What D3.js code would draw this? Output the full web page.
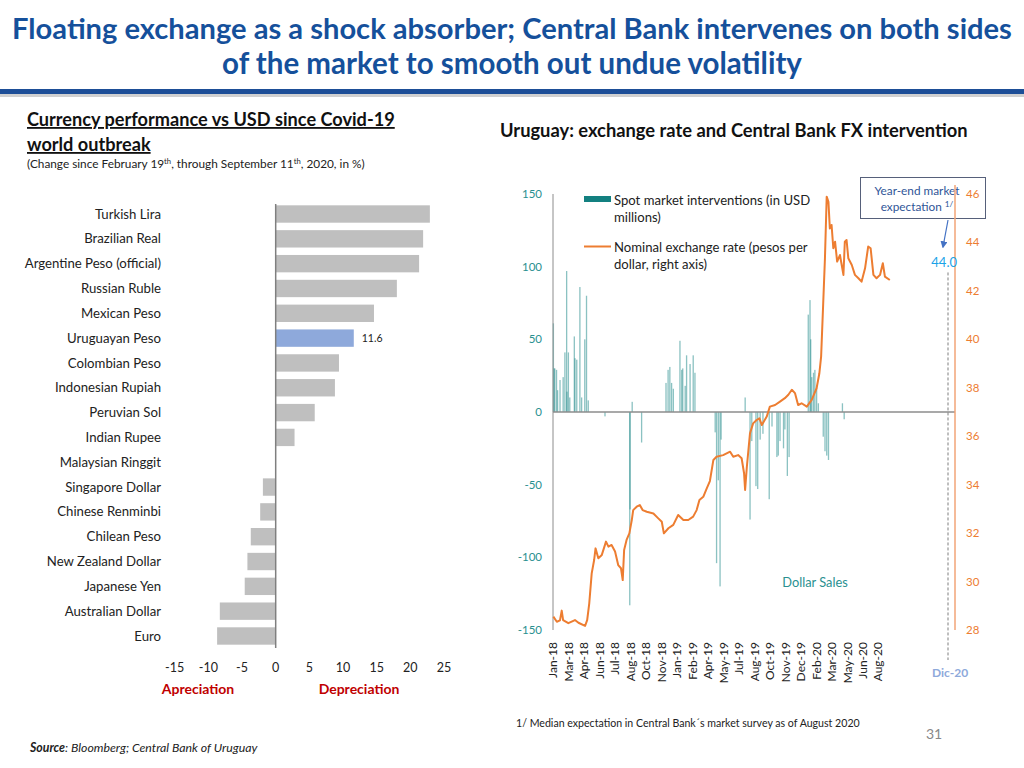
<!DOCTYPE html>
<html><head><meta charset="utf-8">
<script src="https://cdn.jsdelivr.net/npm/d3@7"></script>
<style>
body{margin:0;background:#fff}
svg{display:block}
text{font-family:Lato,"Open Sans",sans-serif}
</style>
</head><body><svg id="c" width="1024" height="768"></svg>
<script>
// ---------- Left chart data ----------
const currencies = ["Turkish Lira","Brazilian Real","Argentine Peso (official)","Russian Ruble","Mexican Peso","Uruguayan Peso","Colombian Peso","Indonesian Rupiah","Peruvian Sol","Indian Rupee","Malaysian Ringgit","Singapore Dollar","Chinese Renminbi","Chilean Peso","New Zealand Dollar","Japanese Yen","Australian Dollar","Euro"];
const changes = [22.9,21.9,21.3,18.0,14.6,11.6,9.4,8.8,5.8,2.8,-0.1,-1.9,-2.3,-3.7,-4.2,-4.6,-8.3,-8.7];
const highlighted = "Uruguayan Peso";
const pctTicks = [-15,-10,-5,0,5,10,15,20,25];

// ---------- Right chart data ----------
const fxDates = ["2018-01-20","2018-01-30","2018-02-08","2018-02-13","2018-02-17","2018-03-04","2018-03-23","2018-04-02","2018-04-21","2018-04-27","2018-05-03","2018-05-10","2018-05-17","2018-05-21","2018-05-29","2018-06-08","2018-06-20","2018-06-27","2018-07-06","2018-07-16","2018-07-25","2018-08-02","2018-08-07","2018-08-11","2018-08-18","2018-08-26","2018-09-02","2018-09-06","2018-09-16","2018-09-25","2018-10-03","2018-10-15","2018-11-03","2018-11-17","2018-11-27","2018-12-03","2018-12-16","2018-12-30","2019-01-13","2019-01-28","2019-02-11","2019-02-25","2019-03-07","2019-03-15","2019-03-26","2019-04-05","2019-04-14","2019-04-24","2019-05-03","2019-05-22","2019-06-11","2019-06-20","2019-07-04","2019-07-14","2019-07-21","2019-07-24","2019-07-29","2019-08-07","2019-08-16","2019-08-26","2019-09-03","2019-09-10","2019-09-24","2019-10-03","2019-10-18","2019-11-01","2019-11-15","2019-11-25","2019-12-05","2019-12-14","2019-12-23","2020-01-02","2020-01-17","2020-01-31","2020-02-14","2020-02-22","2020-02-27","2020-03-01","2020-03-04","2020-03-09","2020-03-14","2020-03-19","2020-03-23","2020-03-28","2020-04-02","2020-04-07","2020-04-13","2020-04-21","2020-05-01","2020-05-05","2020-05-10","2020-05-15","2020-05-25","2020-06-03","2020-06-13","2020-06-22","2020-07-02","2020-07-11","2020-07-18","2020-07-26","2020-08-04","2020-08-14","2020-08-22","2020-08-28","2020-09-11"];
const fxValues = [28.55,28.34,28.40,28.80,28.41,28.28,28.41,28.30,28.17,28.41,29.10,30.34,30.89,31.37,30.96,31.10,31.65,31.44,31.51,31.24,30.68,30.55,30.06,31.30,31.72,31.99,32.54,32.95,33.09,33.16,32.95,32.88,32.81,32.61,32.47,31.99,32.20,32.34,32.75,32.54,32.54,32.68,32.95,33.37,33.50,33.85,34.15,35.02,35.15,35.22,35.36,35.15,35.22,35.09,34.47,33.78,34.74,36.12,36.53,36.67,36.74,36.46,36.81,37.22,37.29,37.43,37.57,37.71,37.92,37.78,37.29,37.36,37.22,37.50,37.98,38.60,39.29,40.39,41.49,43.35,45.89,45.68,44.58,44.72,43.76,44.03,43.21,43.48,42.66,44.03,44.10,43.35,43.07,42.66,42.52,42.38,42.93,43.83,43.76,42.66,42.52,42.66,43.14,42.59,42.45];

const ivDates = ["2018-01-20","2018-01-22","2018-01-24","2018-01-29","2018-02-01","2018-02-08","2018-02-17","2018-02-22","2018-02-27","2018-02-28","2018-03-04","2018-03-08","2018-03-21","2018-03-23","2018-03-28","2018-04-06","2018-04-11","2018-04-20","2018-04-25","2018-04-30","2018-06-17","2018-08-27","2018-08-28","2018-09-03","2018-09-30","2018-12-09","2018-12-15","2018-12-20","2018-12-25","2018-12-30","2019-01-18","2019-01-23","2019-01-26","2019-02-02","2019-02-06","2019-02-16","2019-02-25","2019-03-02","2019-04-29","2019-05-03","2019-05-08","2019-05-13","2019-05-16","2019-07-24","2019-08-07","2019-08-12","2019-08-24","2019-08-29","2019-09-05","2019-09-13","2019-10-01","2019-10-09","2019-10-23","2019-10-27","2019-11-01","2019-11-11","2019-11-15","2019-11-22","2019-11-27","2020-01-21","2020-01-26","2020-01-28","2020-01-31","2020-02-05","2020-02-09","2020-02-14","2020-02-19","2020-03-04","2020-03-09","2020-03-14","2020-03-19","2020-04-28","2020-05-03"];
const ivValues = [61,30,30,29,15,22,24,41,97,14,41,10,52,37,36,86,10,50,80,8,-3,-133,-67,7,-21,20,29,31,20,16,49,29,30,18,39,33,39,27,-14,-104,-47,-120,-19,10,-74,-20,-51,-53,-19,-15,-60,-10,-31,-30,-20,-25,-12,-44,-31,67,77,50,24,27,29,17,6,-17,-27,-30,-33,6,-5];

const monthTickDates = ["2018-01-19","2018-03-04","2018-04-18","2018-06-01","2018-07-16","2018-08-29","2018-10-13","2018-11-26","2019-01-10","2019-02-23","2019-04-08","2019-05-23","2019-07-06","2019-08-20","2019-10-03","2019-11-17","2019-12-31","2020-02-14","2020-03-29","2020-05-13","2020-06-26","2020-08-09"];
const monthTickLabels = ["Jan-18","Mar-18","Apr-18","Jun-18","Jul-18","Aug-18","Oct-18","Nov-18","Jan-19","Feb-19","Apr-19","May-19","Jul-19","Aug-19","Oct-19","Nov-19","Dec-19","Feb-20","Mar-20","May-20","Jun-20","Aug-20"];
const leftTicks = [150,100,50,0,-50,-100,-150];
const rightTicks = [46,44,42,40,38,36,34,32,30,28];
const yearEndExpectation = 44.0;
const yearEndLabel = "Dic-20";

// ---------- Drawing ----------
const svg = d3.select("#c");
const parse = d3.timeParse("%Y-%m-%d");
function fit(sel, w){
  const n = sel.node(); const cw = n.getComputedTextLength();
  const fs = parseFloat(sel.attr("font-size"));
  sel.attr("font-size", fs*w/cw);
  return sel;
}

// Header
fit(svg.append("text").attr("x",512).attr("y",39).attr("text-anchor","middle")
  .attr("font-size",27).attr("font-weight","bold").attr("fill","#15509B")
  .text("Floating exchange as a shock absorber; Central Bank intervenes on both sides"), 1000);
fit(svg.append("text").attr("x",512).attr("y",74).attr("text-anchor","middle")
  .attr("font-size",27).attr("font-weight","bold").attr("fill","#15509B")
  .text("of the market to smooth out undue volatility"), 580);
svg.append("rect").attr("x",0).attr("y",93).attr("width",1024).attr("height",4).attr("fill","#d0d0d0");
svg.append("rect").attr("x",0).attr("y",89).attr("width",1024).attr("height",5).attr("fill","#1D4E97");

// Left titles
const st1 = fit(svg.append("text").attr("x",27).attr("y",126).attr("font-size",16).attr("font-weight","bold")
  .attr("fill","#111").style("text-decoration","underline")
  .text("Currency performance vs USD since Covid-19"), 368);
svg.append("text").attr("x",27).attr("y",151).attr("font-size",st1.attr("font-size")).attr("font-weight","bold")
  .attr("fill","#111").style("text-decoration","underline")
  .text("world outbreak");
{
  const t = svg.append("text").attr("x",27).attr("y",168).attr("font-size",11).attr("fill","#222");
  t.append("tspan").text("(Change since February 19");
  t.append("tspan").attr("font-size","0.65em").attr("dy",-4).text("th");
  t.append("tspan").attr("dy",4).text(", through September 11");
  t.append("tspan").attr("font-size","0.65em").attr("dy",-4).text("th");
  t.append("tspan").attr("dy",4).text(", 2020, in %)");
  fit(t, 338);
}

// Left bar chart
const xL = d3.scaleLinear().domain([-15,25]).range([174.7,444]);
const yB = d3.scaleBand().domain(currencies).range([201.6,648.4]).paddingInner(0.3).paddingOuter(0.15);
const barData = currencies.map((c,i)=>({c, v:changes[i]}));
svg.append("g").selectAll("rect").data(barData).join("rect")
  .attr("x", d=>xL(Math.min(0,d.v))).attr("width", d=>Math.abs(xL(d.v)-xL(0)))
  .attr("y", d=>yB(d.c)).attr("height", yB.bandwidth())
  .attr("fill", d=>d.c===highlighted ? "#8EA9DB" : "#BFBFBF");
svg.append("line").attr("x1",xL(0)).attr("x2",xL(0)).attr("y1",204).attr("y2",648)
  .attr("stroke","#7f7f7f").attr("stroke-width",1.5);
svg.append("g").selectAll("text").data(currencies).join("text")
  .attr("x",161).attr("y", d=>yB(d)+yB.bandwidth()/2).attr("dy","0.35em")
  .attr("text-anchor","end").attr("font-size",13.2).attr("fill","#222").text(d=>d);
const hl = barData.find(d=>d.c===highlighted);
svg.append("text").attr("x", xL(hl.v)+8).attr("y", yB(hl.c)+yB.bandwidth()/2).attr("dy","0.35em")
  .attr("font-size",10.5).attr("fill","#222").text(d3.format(".1f")(hl.v));
svg.append("g").selectAll("text").data(pctTicks).join("text")
  .attr("x", d=>xL(d)).attr("y",672).attr("text-anchor","middle")
  .attr("font-size",12.5).attr("fill","#222").text(d=>d);
svg.append("text").attr("x",198).attr("y",694).attr("text-anchor","middle").attr("font-size",14)
  .attr("font-weight","bold").attr("fill","#C00000").text("Apreciation");
svg.append("text").attr("x",359).attr("y",694).attr("text-anchor","middle").attr("font-size",14)
  .attr("font-weight","bold").attr("fill","#C00000").text("Depreciation");

// Right chart
fit(svg.append("text").attr("x",500).attr("y",137).attr("font-size",16).attr("font-weight","bold")
  .attr("fill","#111").text("Uruguay: exchange rate and Central Bank FX intervention"), 468);

const fx = fxDates.map((d,i)=>({date:parse(d), v:fxValues[i]}));
const iv = ivDates.map((d,i)=>({date:parse(d), v:ivValues[i]}));
const x = d3.scaleTime().domain([parse("2018-01-19"), parse("2020-09-11")]).range([553, 889.8]);
const yL = d3.scaleLinear().domain([-150,150]).range([630,194]);
const yR = d3.scaleLinear().domain([28,46]).range([630,194]);
const rightAxisX = 955;

// annotation box (behind ticks)
svg.append("defs").append("marker").attr("id","ah").attr("viewBox","0 0 10 10").attr("refX",8).attr("refY",5)
  .attr("markerWidth",6).attr("markerHeight",6).attr("orient","auto")
  .append("path").attr("d","M0,0L10,5L0,10z").attr("fill","#4472C4");
svg.append("rect").attr("x",860.5).attr("y",177.5).attr("width",125).attr("height",41)
  .attr("fill","#fff").attr("stroke","#56607a").attr("stroke-width",1);
svg.append("text").attr("x",917).attr("y",195).attr("text-anchor","middle").attr("font-size",11.8)
  .attr("fill","#2F5597").text("Year-end market");
{
  const t = svg.append("text").attr("x",917).attr("y",211).attr("text-anchor","middle").attr("font-size",11.8).attr("fill","#2F5597");
  t.append("tspan").text("expectation ");
  t.append("tspan").attr("font-size","0.7em").attr("dy",-4).text("1/");
}
svg.append("line").attr("x1",948).attr("y1",220).attr("x2",943).attr("y2",247)
  .attr("stroke","#4472C4").attr("stroke-width",1.2).attr("marker-end","url(#ah)");

// intervention bars
svg.append("g").selectAll("rect").data(iv).join("rect")
  .attr("x", d=>x(d.date)-0.6).attr("width",1.3)
  .attr("y", d=>Math.min(yL(d.v), yL(0))).attr("height", d=>Math.abs(yL(d.v)-yL(0)))
  .attr("fill","#178585").attr("fill-opacity",0.5);

// axes lines
svg.append("line").attr("x1",553).attr("x2",553).attr("y1",yL(150)).attr("y2",yL(-150))
  .attr("stroke","#8c8c8c").attr("stroke-width",1);
svg.append("line").attr("x1",553).attr("x2",rightAxisX).attr("y1",yL(0)).attr("y2",yL(0))
  .attr("stroke","#8c8c8c").attr("stroke-width",1.3);
svg.append("line").attr("x1",rightAxisX).attr("x2",rightAxisX).attr("y1",185).attr("y2",yR(28))
  .attr("stroke","#F2A477").attr("stroke-width",1.5);

// left ticks
svg.append("g").selectAll("text").data(leftTicks).join("text")
  .attr("x",542).attr("y", d=>yL(d)).attr("dy","0.35em").attr("text-anchor","end")
  .attr("font-size",11.5).attr("fill","#2A9090").text(d=>d);
// right ticks
svg.append("g").selectAll("text").data(rightTicks).join("text")
  .attr("x",966).attr("y", d=>yR(d)).attr("dy","0.35em")
  .attr("font-size",11.5).attr("fill","#ED7D31").text(d=>d);
// x ticks
svg.append("g").selectAll("text").data(monthTickDates).join("text")
  .attr("transform", d=>`translate(${x(parse(d))},642) rotate(-90)`)
  .attr("text-anchor","end").attr("dy","0.35em")
  .attr("font-size",12).attr("fill","#222").text((d,i)=>monthTickLabels[i]);

// exchange rate line
svg.append("path").datum(fx)
  .attr("d", d3.line().x(d=>x(d.date)).y(d=>yR(d.v)))
  .attr("fill","none").attr("stroke","#ED7D31").attr("stroke-width",2).attr("stroke-linejoin","round");

// expectation marker
const expX = rightAxisX - 7;
svg.append("line").attr("x1",expX).attr("x2",expX).attr("y1",yR(yearEndExpectation)+30).attr("y2",660)
  .attr("stroke","#7f7f7f").attr("stroke-width",1).attr("stroke-dasharray","3,2");
svg.append("text").attr("x",expX+9).attr("y",yR(yearEndExpectation)+25).attr("text-anchor","end")
  .attr("font-size",13).attr("fill","#1AA3E8").text(d3.format(".1f")(yearEndExpectation));
svg.append("text").attr("x",expX+2).attr("y",677).attr("text-anchor","middle")
  .attr("font-size",12).attr("font-weight","bold").attr("fill","#8EA9DB").text(yearEndLabel);

// legend
svg.append("rect").attr("x",584).attr("y",196).attr("width",27).attr("height",6).attr("fill","#138080");
svg.append("text").attr("x",614).attr("y",205).attr("font-size",13.1).attr("fill","#222").text("Spot market interventions (in USD");
svg.append("text").attr("x",614).attr("y",222).attr("font-size",13.1).attr("fill","#222").text("millions)");
svg.append("line").attr("x1",584).attr("x2",611).attr("y1",246.5).attr("y2",246.5).attr("stroke","#ED7D31").attr("stroke-width",2);
svg.append("text").attr("x",614).attr("y",252).attr("font-size",13.1).attr("fill","#222").text("Nominal exchange rate (pesos per");
svg.append("text").attr("x",614).attr("y",269).attr("font-size",13.1).attr("fill","#222").text("dollar, right axis)");

svg.append("text").attr("x",815).attr("y",587).attr("text-anchor","middle").attr("font-size",12.8)
  .attr("fill","#2A9090").text("Dollar Sales");

// footnotes
svg.append("text").attr("x",516).attr("y",727).attr("font-size",10.6).attr("fill","#222")
  .text("1/ Median expectation in Central Bank´s market survey as of August 2020");
svg.append("text").attr("x",934).attr("y",739).attr("text-anchor","middle").attr("font-size",14).attr("fill","#888").text("31");
{
  const t = svg.append("text").attr("x",30).attr("y",752).attr("font-size",12.3).attr("fill","#222").attr("font-style","italic");
  t.append("tspan").attr("font-weight","bold").text("Source");
  t.append("tspan").text(": Bloomberg; Central Bank of Uruguay");
}
</script>
</body></html>
